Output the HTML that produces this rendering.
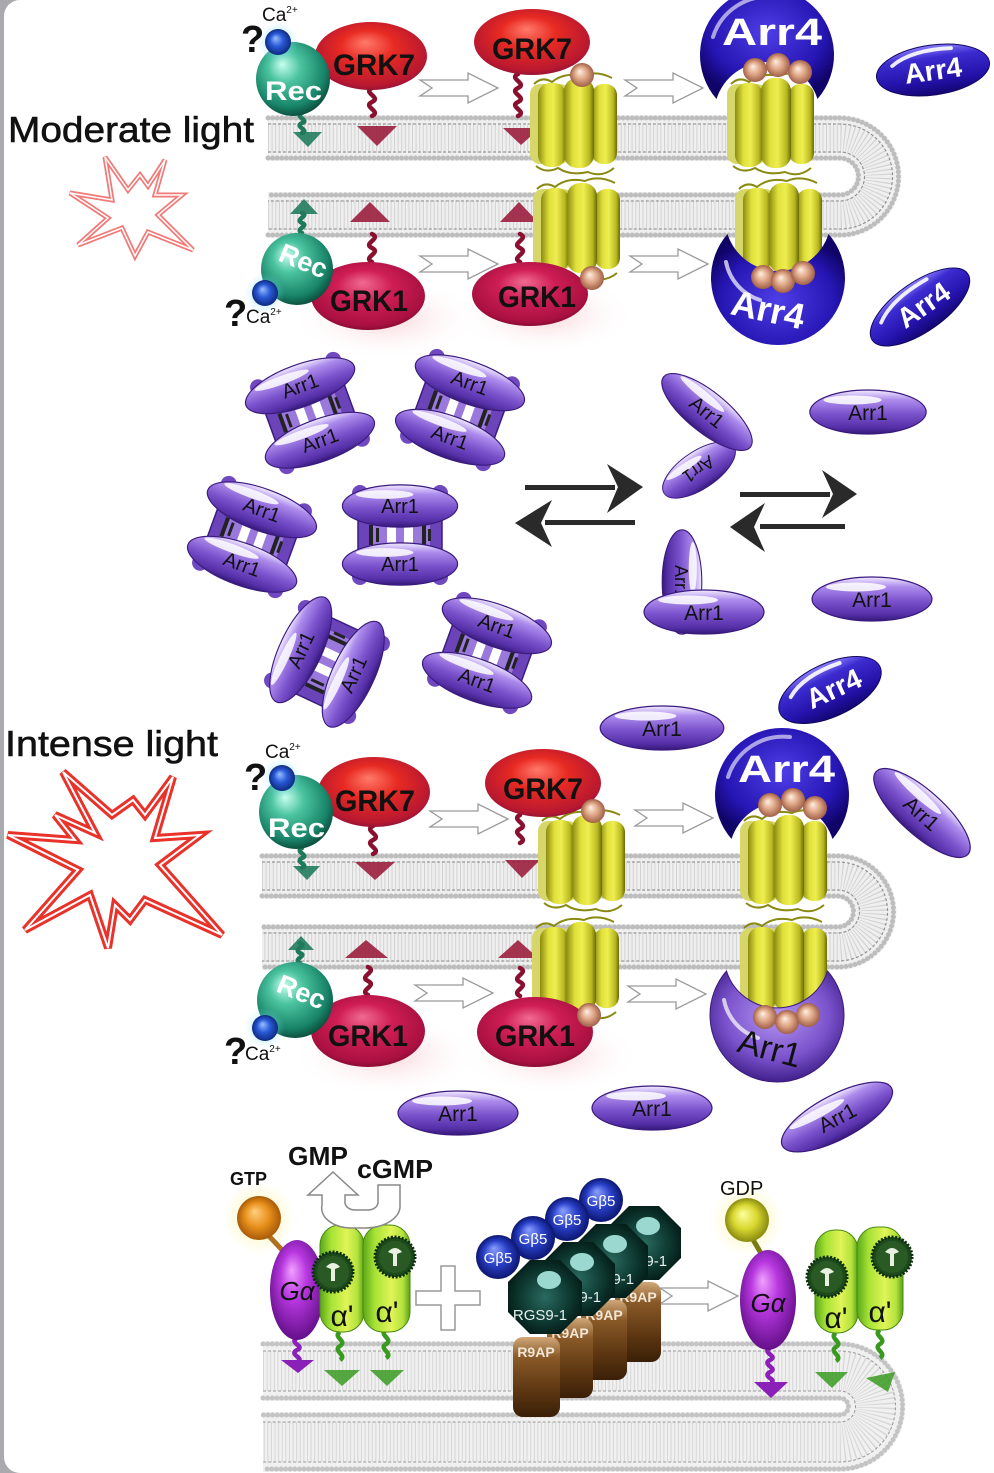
<!DOCTYPE html>
<html><head><meta charset="utf-8">
<style>
html,body{margin:0;padding:0;background:#fff;}
#wrap{position:relative;width:994px;height:1473px;background:#a9a9ae;overflow:hidden;}
#card{position:absolute;left:4px;top:0;width:1000px;height:1473px;background:#fff;border-radius:16px 0 0 16px;}
svg{position:absolute;left:0;top:0;}
text{font-family:"Liberation Sans",sans-serif;}
</style></head><body>
<div id="wrap"><div id="card"></div>
<svg width="994" height="1473" viewBox="0 0 994 1473" xmlns="http://www.w3.org/2000/svg">
<defs>
<linearGradient id="gA1" x1="0" y1="0" x2="0" y2="1">
<stop offset="0" stop-color="#f2ecff"/><stop offset="0.22" stop-color="#ad8cec"/><stop offset="0.55" stop-color="#7a52cc"/><stop offset="0.85" stop-color="#5630a8"/><stop offset="1" stop-color="#351878"/></linearGradient>
<linearGradient id="gA4" x1="0" y1="0" x2="0" y2="1">
<stop offset="0" stop-color="#8a7cff"/><stop offset="0.25" stop-color="#3c2cd0"/><stop offset="0.7" stop-color="#2412aa"/><stop offset="1" stop-color="#120670"/></linearGradient>
<radialGradient id="gA4c" cx="0.5" cy="0.4" r="0.6"><stop offset="0" stop-color="#4e3ee6"/><stop offset="0.7" stop-color="#2616b4"/><stop offset="1" stop-color="#100468"/></radialGradient>
<radialGradient id="gA1c" cx="0.5" cy="0.6" r="0.6"><stop offset="0" stop-color="#b496f2"/><stop offset="0.65" stop-color="#7a52cc"/><stop offset="1" stop-color="#40208a"/></radialGradient>
<radialGradient id="gRec" cx="0.45" cy="0.4" r="0.62" fx="0.35" fy="0.3"><stop offset="0" stop-color="#c8fff0"/><stop offset="0.35" stop-color="#4cc4a0"/><stop offset="0.8" stop-color="#188468"/><stop offset="1" stop-color="#0c4a3a"/></radialGradient>
<radialGradient id="gG7" cx="0.5" cy="0.45" r="0.6" fx="0.45" fy="0.3"><stop offset="0" stop-color="#ff7a6a"/><stop offset="0.4" stop-color="#e82a22"/><stop offset="0.85" stop-color="#b81830"/><stop offset="1" stop-color="#801038"/></radialGradient>
<radialGradient id="gG1" cx="0.5" cy="0.45" r="0.6" fx="0.45" fy="0.3"><stop offset="0" stop-color="#f06a90"/><stop offset="0.4" stop-color="#d01e55"/><stop offset="0.85" stop-color="#a81040"/><stop offset="1" stop-color="#700828"/></radialGradient>
<radialGradient id="gCa" cx="0.5" cy="0.5" r="0.5" fx="0.4" fy="0.35"><stop offset="0" stop-color="#9ac0ff"/><stop offset="0.5" stop-color="#2a5ad8"/><stop offset="1" stop-color="#0e2a80"/></radialGradient>
<radialGradient id="gCaGlow"><stop offset="0" stop-color="#7ee0ff" stop-opacity="0.7"/><stop offset="1" stop-color="#7ee0ff" stop-opacity="0"/></radialGradient>
<linearGradient id="gCyl" x1="0" y1="0" x2="1" y2="0"><stop offset="0" stop-color="#8a8a10"/><stop offset="0.3" stop-color="#e0e03c"/><stop offset="0.55" stop-color="#eeee50"/><stop offset="0.85" stop-color="#b8b820"/><stop offset="1" stop-color="#6a6a08"/></linearGradient>
<radialGradient id="gPho" cx="0.5" cy="0.5" r="0.5" fx="0.4" fy="0.35"><stop offset="0" stop-color="#fff0e4"/><stop offset="0.5" stop-color="#e0a888"/><stop offset="1" stop-color="#a06048"/></radialGradient>
<radialGradient id="gGlow"><stop offset="0" stop-color="#f08c96" stop-opacity="0.4"/><stop offset="1" stop-color="#ffffff" stop-opacity="0"/></radialGradient>
<radialGradient id="gGa" cx="0.5" cy="0.45" r="0.6" fx="0.4" fy="0.3"><stop offset="0" stop-color="#f0a0ff"/><stop offset="0.4" stop-color="#b838e0"/><stop offset="1" stop-color="#5a0a80"/></radialGradient>
<linearGradient id="gPde" x1="0" y1="0" x2="1" y2="0"><stop offset="0" stop-color="#5aa81a"/><stop offset="0.25" stop-color="#a6e234"/><stop offset="0.6" stop-color="#e0f458"/><stop offset="0.85" stop-color="#b4e23c"/><stop offset="1" stop-color="#5aa018"/></linearGradient>
<radialGradient id="gGtp" cx="0.5" cy="0.5" r="0.5" fx="0.4" fy="0.35"><stop offset="0" stop-color="#ffd080"/><stop offset="0.55" stop-color="#e8901c"/><stop offset="1" stop-color="#a85a08"/></radialGradient>
<radialGradient id="gGdp" cx="0.5" cy="0.5" r="0.5" fx="0.4" fy="0.35"><stop offset="0" stop-color="#ffffa0"/><stop offset="0.55" stop-color="#d8d830"/><stop offset="1" stop-color="#8a8a10"/></radialGradient>
<radialGradient id="gYGlow"><stop offset="0" stop-color="#fff27a" stop-opacity="0.6"/><stop offset="1" stop-color="#fff27a" stop-opacity="0"/></radialGradient>
<radialGradient id="gGb" cx="0.5" cy="0.5" r="0.5" fx="0.4" fy="0.3"><stop offset="0" stop-color="#8aa0ff"/><stop offset="0.55" stop-color="#2a40c8"/><stop offset="1" stop-color="#0c1670"/></radialGradient>
<radialGradient id="gOct" cx="0.5" cy="0.5" r="0.55"><stop offset="0" stop-color="#2a6a60"/><stop offset="0.6" stop-color="#0e3a32"/><stop offset="1" stop-color="#041a16"/></radialGradient>
<linearGradient id="gR9" x1="0" y1="0" x2="0" y2="1"><stop offset="0" stop-color="#d0a878"/><stop offset="0.25" stop-color="#8a5a28"/><stop offset="0.7" stop-color="#5a3410"/><stop offset="1" stop-color="#3a2008"/></linearGradient>

<g id="e1"><ellipse rx="60" ry="22" fill="url(#gA1)" stroke="#3a1a7c" stroke-width="1.2"/><ellipse cx="-16" cy="-12" rx="30" ry="4.5" fill="#fff" opacity="0.85"/></g>
<g id="e4"><ellipse rx="60" ry="26" fill="url(#gA4)" stroke="#10065a" stroke-width="1"/><path d="M-42,-10 Q-20,-24 22,-20" stroke="#fff" stroke-width="4" fill="none" stroke-linecap="round" opacity="0.9"/></g>
<g id="tet">
 <circle cx="-40" cy="-42" r="8" fill="#7048c0"/><circle cx="40" cy="-42" r="8" fill="#7048c0"/>
 <circle cx="-40" cy="42" r="8" fill="#7048c0"/><circle cx="40" cy="42" r="8" fill="#7048c0"/>
 <rect x="-42" y="-36" width="84" height="72" rx="8" fill="#6a44b8" stroke="#3c1c80" stroke-width="1.5"/>
 <rect x="-30" y="-22" width="60" height="44" fill="#9a78dc"/>
 <rect x="-13" y="-12" width="9" height="22" fill="#fff"/>
 <rect x="4" y="-12" width="9" height="22" fill="#fff"/>
 <rect x="-31" y="-10" width="4" height="20" fill="#222"/><rect x="-24" y="-7" width="3" height="14" fill="#222"/>
 <rect x="22" y="-10" width="4" height="20" fill="#222"/><rect x="28" y="-6" width="3" height="12" fill="#222"/>
 <use href="#e1" transform="translate(0,-29) scale(0.96)"/>
 <use href="#e1" transform="translate(0,29) scale(0.96)"/>
</g>
<g id="rho">
 <path d="M4,6 q8,-8 18,-2 q12,-10 30,-6 q14,-6 30,2" stroke="#8a8a12" stroke-width="2" fill="none"/>
 <rect x="0" y="6" width="40" height="80" rx="10" fill="#d6d66a"/>
 <rect x="8" y="5" width="28" height="84" rx="12" fill="url(#gCyl)"/>
 <rect x="62" y="6" width="25" height="80" rx="11" fill="url(#gCyl)"/>
 <rect x="34" y="0" width="30" height="90" rx="13" fill="url(#gCyl)"/>
 <path d="M6,88 q10,8 22,2 q12,8 30,4 q14,6 26,-4" stroke="#8a8a12" stroke-width="2" fill="none"/>
</g>
<path id="chev" d="M0,7 H48 V0 L78,15 L48,30 V23 H0 L12,15 Z" fill="#fff" stroke="#9a9a9a" stroke-width="1.3"/>
<path id="cres" d="M-50.5,44 A67 67 0 1 1 50.5,44 A53 53 0 0 0 -50.5,44 Z"/>
<polygon id="oct" points="37,15 15,37 -15,37 -37,15 -37,-15 -15,-37 15,-37 37,-15"/>
<g id="gear"><circle r="20" fill="#1c4a1c" stroke="#0c2c0c" stroke-width="3" stroke-dasharray="2 1.6"/><circle r="16" fill="#2a5a24"/><path d="M-7,-5 Q0,-13 7,-5 L2,-3 V9 H-2 V-3 Z" fill="#e8f0e0"/></g>
</defs>

<!-- ================= MEMBRANES ================= -->
<g fill="none">
 <path d="M268,138 H840 A38.5 38.5 0 0 1 840,215 H268" stroke="#efefef" stroke-width="46"/>
 <path d="M268,138 H840 A38.5 38.5 0 0 1 840,215 H268" stroke="#d2d2d2" stroke-width="30" stroke-dasharray="1 2.6"/>
 <path d="M268,118 H840 A58.5 58.5 0 0 1 840,235 H268" stroke="#bdbdbd" stroke-width="5" stroke-dasharray="0.01 4.6" stroke-linecap="round"/>
 <path d="M268,158 H840 A18.5 18.5 0 0 1 840,195 H268" stroke="#bdbdbd" stroke-width="5" stroke-dasharray="0.01 4.6" stroke-linecap="round"/>
 <path d="M268,124 H840 A52.5 52.5 0 0 1 840,229 H268" stroke="#8a8a8a" stroke-width="1" stroke-dasharray="3 2"/>
 <path d="M268,152 H840 A24.5 24.5 0 0 1 840,201 H268" stroke="#8a8a8a" stroke-width="1" stroke-dasharray="3 2"/>

 <path d="M262,876 H838 A35.5 35.5 0 0 1 838,947 H262" stroke="#efefef" stroke-width="46"/>
 <path d="M262,876 H838 A35.5 35.5 0 0 1 838,947 H262" stroke="#d2d2d2" stroke-width="30" stroke-dasharray="1 2.6"/>
 <path d="M262,856 H838 A55.5 55.5 0 0 1 838,967 H262" stroke="#bdbdbd" stroke-width="5" stroke-dasharray="0.01 4.6" stroke-linecap="round"/>
 <path d="M262,896 H838 A15.5 15.5 0 0 1 838,927 H262" stroke="#bdbdbd" stroke-width="5" stroke-dasharray="0.01 4.6" stroke-linecap="round"/>
 <path d="M262,862 H838 A49.5 49.5 0 0 1 838,961 H262" stroke="#8a8a8a" stroke-width="1" stroke-dasharray="3 2"/>
 <path d="M262,890 H838 A21.5 21.5 0 0 1 838,933 H262" stroke="#8a8a8a" stroke-width="1" stroke-dasharray="3 2"/>

 <path d="M263,1371 H840 A35.5 35.5 0 0 1 840,1442 H263" stroke="#f0f0f0" stroke-width="60"/>
 <path d="M263,1371 H840 A35.5 35.5 0 0 1 840,1442 H263" stroke="#d6d6d6" stroke-width="40" stroke-dasharray="1 2.6"/>
 <path d="M263,1344 H840 A62.5 62.5 0 0 1 840,1469 H263" stroke="#c4c4c4" stroke-width="5" stroke-dasharray="0.01 4.6" stroke-linecap="round"/>
 <path d="M263,1398 H840 A8.5 8.5 0 0 1 840,1415 H263" stroke="#c4c4c4" stroke-width="5" stroke-dasharray="0.01 4.6" stroke-linecap="round"/>
 <path d="M263,1351 H840 A55.5 55.5 0 0 1 840,1462 H263" stroke="#9a9a9a" stroke-width="1" stroke-dasharray="3 2"/>
 <path d="M263,1391 H840 A15.5 15.5 0 0 1 840,1422 H263" stroke="#9a9a9a" stroke-width="1" stroke-dasharray="3 2"/>
</g>

<!-- ================= PINK GLOWS ================= -->
<ellipse cx="385" cy="318" rx="95" ry="42" fill="url(#gGlow)"/>
<ellipse cx="545" cy="315" rx="90" ry="40" fill="url(#gGlow)"/>
<ellipse cx="385" cy="1055" rx="95" ry="42" fill="url(#gGlow)"/>
<ellipse cx="550" cy="1055" rx="90" ry="40" fill="url(#gGlow)"/>

<!-- ================= TAILS & MEMBRANE ARROWS ================= -->
<g fill="none" stroke-width="4.5" stroke-linecap="round">
 <path d="M372,88 c-10,5 10,9 0,14 c-10,5 10,9 0,14" stroke="#8a1030"/>
 <path d="M518,74 c-10,5 10,9 0,14 c-10,5 10,9 0,14 c-10,5 10,9 0,14" stroke="#8a1030"/>
 <path d="M372,262 c-10,-5 10,-9 0,-14 c-10,-5 10,-9 0,-14" stroke="#8a1030"/>
 <path d="M520,262 c-10,-5 10,-9 0,-14 c-10,-5 10,-9 0,-14" stroke="#8a1030"/>
 <path d="M302,113 c-8,4 8,7 0,10 c-8,4 8,7 0,10" stroke="#1e7a5a"/>
 <path d="M302,233 c-8,-4 8,-7 0,-10 c-8,-4 8,-7 0,-10" stroke="#1e7a5a"/>
 <path d="M373,826 c-10,5 10,9 0,14 c-10,5 10,9 0,14" stroke="#8a1030"/>
 <path d="M520,815 c-10,5 10,9 0,14 c-10,5 10,9 0,14" stroke="#8a1030"/>
 <path d="M368,995 c-10,-5 10,-9 0,-14 c-10,-5 10,-9 0,-14" stroke="#8a1030"/>
 <path d="M520,996 c-10,-5 10,-9 0,-14 c-10,-5 10,-9 0,-14" stroke="#8a1030"/>
 <path d="M302,848 c-8,4 8,7 0,10 c-8,4 8,7 0,10" stroke="#1e7a5a"/>
 <path d="M300,963 c-8,-4 8,-7 0,-10 c-8,-4 8,-7 0,-10" stroke="#1e7a5a"/>
</g>
<g opacity="0.88">
 <polygon points="357,126 397,126 377,146" fill="#9a1a3a"/>
 <polygon points="503,128 540,128 521,145" fill="#9a1a3a"/>
 <polygon points="350,222 390,222 370,202" fill="#9a1a3a"/>
 <polygon points="500,222 538,222 519,202" fill="#9a1a3a"/>
 <polygon points="293,132 322,132 308,147" fill="#1e7a5a"/>
 <polygon points="290,214 318,214 304,199" fill="#1e7a5a"/>
 <polygon points="355,862 395,862 375,880" fill="#9a1a3a"/>
 <polygon points="505,860 540,860 522,878" fill="#9a1a3a"/>
 <polygon points="345,958 388,958 366,940" fill="#9a1a3a"/>
 <polygon points="498,958 538,958 518,940" fill="#9a1a3a"/>
 <polygon points="293,866 320,866 307,880" fill="#1e7a5a"/>
 <polygon points="288,950 314,950 301,936" fill="#1e7a5a"/>
</g>

<!-- ================= RHODOPSINS ================= -->
<use href="#rho" x="530" y="78"/>
<use href="#rho" x="727" y="78"/>
<use href="#rho" x="533" y="183"/>
<use href="#rho" x="735" y="183"/>
<use href="#rho" x="538" y="815"/>
<use href="#rho" x="740" y="815"/>
<use href="#rho" x="532" y="922"/>
<use href="#rho" x="740" y="922"/>

<!-- ================= GRKs ================= -->
<ellipse cx="371" cy="56" rx="56" ry="34" fill="url(#gG7)"/>
<text x="333" y="75" font-size="30" font-weight="bold" textLength="82" lengthAdjust="spacingAndGlyphs" fill="#111">GRK7</text>
<ellipse cx="532" cy="42" rx="58" ry="33" fill="url(#gG7)"/>
<text x="492" y="59" font-size="30" font-weight="bold" textLength="80" lengthAdjust="spacingAndGlyphs" fill="#111">GRK7</text>
<ellipse cx="368" cy="296" rx="57" ry="34" fill="url(#gG1)"/>
<text x="330" y="311" font-size="30" font-weight="bold" textLength="78" lengthAdjust="spacingAndGlyphs" fill="#111">GRK1</text>
<ellipse cx="530" cy="294" rx="58" ry="32" fill="url(#gG1)"/>
<text x="498" y="307" font-size="30" font-weight="bold" textLength="78" lengthAdjust="spacingAndGlyphs" fill="#111">GRK1</text>

<ellipse cx="374" cy="792" rx="56" ry="35" fill="url(#gG7)"/>
<text x="335" y="811" font-size="30" font-weight="bold" textLength="80" lengthAdjust="spacingAndGlyphs" fill="#111">GRK7</text>
<ellipse cx="543" cy="783" rx="58" ry="34" fill="url(#gG7)"/>
<text x="503" y="799" font-size="30" font-weight="bold" textLength="80" lengthAdjust="spacingAndGlyphs" fill="#111">GRK7</text>
<ellipse cx="368" cy="1031" rx="57" ry="36" fill="url(#gG1)"/>
<text x="328" y="1046" font-size="30" font-weight="bold" textLength="80" lengthAdjust="spacingAndGlyphs" fill="#111">GRK1</text>
<ellipse cx="535" cy="1032" rx="58" ry="35" fill="url(#gG1)"/>
<text x="495" y="1046" font-size="30" font-weight="bold" textLength="80" lengthAdjust="spacingAndGlyphs" fill="#111">GRK1</text>

<circle cx="582" cy="75" r="12" fill="url(#gPho)"/>
<circle cx="592" cy="278" r="12" fill="url(#gPho)"/>
<circle cx="593" cy="811" r="12" fill="url(#gPho)"/>
<circle cx="589" cy="1015" r="12" fill="url(#gPho)"/>

<!-- ================= CRESCENTS ================= -->
<g transform="translate(767,55)">
 <use href="#cres" fill="url(#gA4c)"/>
 <path d="M-54,-18 A58 58 0 0 1 8,-58" stroke="#fff" stroke-width="4" fill="none" opacity="0.6" stroke-linecap="round"/>
</g>
<text x="722" y="45" font-size="38" font-weight="bold" textLength="100" lengthAdjust="spacingAndGlyphs" fill="#fff">Arr4</text>
<circle cx="755" cy="70" r="12" fill="url(#gPho)"/><circle cx="778" cy="65" r="12" fill="url(#gPho)"/><circle cx="800" cy="72" r="12" fill="url(#gPho)"/>

<g transform="translate(778,278) scale(1,-1)">
 <use href="#cres" fill="url(#gA4c)"/>
</g>
<path d="M726,262 A50 50 0 0 0 760,300" stroke="#fff" stroke-width="4" fill="none" opacity="0.7" stroke-linecap="round"/>
<text x="768" y="322" text-anchor="middle" font-size="36" font-weight="bold" fill="#fff" transform="rotate(12 768 310)">Arr4</text>
<circle cx="763" cy="277" r="12" fill="url(#gPho)"/><circle cx="783" cy="281" r="12" fill="url(#gPho)"/><circle cx="803" cy="273" r="12" fill="url(#gPho)"/>

<g transform="translate(782,795)">
 <use href="#cres" fill="url(#gA4c)"/>
 <path d="M-54,-18 A58 58 0 0 1 8,-58" stroke="#fff" stroke-width="4" fill="none" opacity="0.6" stroke-linecap="round"/>
</g>
<text x="738" y="782" font-size="38" font-weight="bold" textLength="97" lengthAdjust="spacingAndGlyphs" fill="#fff">Arr4</text>
<circle cx="770" cy="805" r="12" fill="url(#gPho)"/><circle cx="793" cy="800" r="12" fill="url(#gPho)"/><circle cx="815" cy="808" r="12" fill="url(#gPho)"/>

<g transform="translate(777,1015) scale(1,-1)">
 <use href="#cres" fill="url(#gA1c)" stroke="#3a1a7c" stroke-width="1"/>
</g>
<path d="M724,1000 A50 50 0 0 0 758,1038" stroke="#fff" stroke-width="4" fill="none" opacity="0.7" stroke-linecap="round"/>
<text x="770" y="1060" text-anchor="middle" font-size="34" fill="#111" transform="rotate(15 770 1048)">Arr1</text>
<circle cx="765" cy="1017" r="12" fill="url(#gPho)"/><circle cx="787" cy="1022" r="12" fill="url(#gPho)"/><circle cx="808" cy="1015" r="12" fill="url(#gPho)"/>

<!-- ================= REC & Ca ================= -->
<g>
 <circle cx="293" cy="79" r="37" fill="url(#gRec)"/>
 <text x="265" y="100" font-size="27" font-weight="bold" textLength="57" lengthAdjust="spacingAndGlyphs" fill="#fff">Rec</text>
 <circle cx="278" cy="42" r="20" fill="url(#gCaGlow)"/>
 <circle cx="278" cy="42" r="13" fill="url(#gCa)"/>
 <text x="241" y="52" font-size="38" font-weight="bold" fill="#111">?</text>
 <text x="262" y="21" font-size="19" fill="#111">Ca<tspan dy="-8" font-size="10">2+</tspan></text>

 <circle cx="297" cy="269" r="36" fill="url(#gRec)"/>
 <text x="303" y="270" text-anchor="middle" font-size="27" font-weight="bold" fill="#fff" transform="rotate(22 303 262)">Rec</text>
 <circle cx="265" cy="293" r="20" fill="url(#gCaGlow)"/>
 <circle cx="265" cy="293" r="13" fill="url(#gCa)"/>
 <text x="224" y="326" font-size="38" font-weight="bold" fill="#111">?</text>
 <text x="246" y="323" font-size="19" fill="#111">Ca<tspan dy="-8" font-size="10">2+</tspan></text>

 <circle cx="296" cy="812" r="37" fill="url(#gRec)"/>
 <text x="268" y="837" font-size="27" font-weight="bold" textLength="57" lengthAdjust="spacingAndGlyphs" fill="#fff">Rec</text>
 <circle cx="282" cy="778" r="20" fill="url(#gCaGlow)"/>
 <circle cx="282" cy="778" r="13" fill="url(#gCa)"/>
 <text x="244" y="790" font-size="38" font-weight="bold" fill="#111">?</text>
 <text x="265" y="758" font-size="19" fill="#111">Ca<tspan dy="-8" font-size="10">2+</tspan></text>

 <circle cx="295" cy="1000" r="38" fill="url(#gRec)"/>
 <text x="301" y="1001" text-anchor="middle" font-size="27" font-weight="bold" fill="#fff" transform="rotate(22 301 993)">Rec</text>
 <circle cx="265" cy="1028" r="20" fill="url(#gCaGlow)"/>
 <circle cx="265" cy="1028" r="13" fill="url(#gCa)"/>
 <text x="224" y="1064" font-size="38" font-weight="bold" fill="#111">?</text>
 <text x="245" y="1060" font-size="19" fill="#111">Ca<tspan dy="-8" font-size="10">2+</tspan></text>
</g>

<!-- ================= CHEVRON ARROWS ================= -->
<use href="#chev" x="420" y="73"/>
<use href="#chev" x="625" y="73"/>
<use href="#chev" x="420" y="249"/>
<use href="#chev" x="630" y="249"/>
<use href="#chev" x="430" y="804"/>
<use href="#chev" x="635" y="803"/>
<use href="#chev" x="415" y="978"/>
<use href="#chev" x="628" y="979"/>
<use href="#chev" x="660" y="1281"/>

<!-- ================= FREE Arr4 ================= -->
<g transform="translate(933,70) rotate(-8)"><use href="#e4" transform="scale(0.95,0.96)"/><text x="0" y="10" text-anchor="middle" font-size="28" font-weight="bold" fill="#fff">Arr4</text></g>
<g transform="translate(920,307) rotate(-35)"><use href="#e4" transform="scale(0.97,0.95)"/><text x="4" y="10" text-anchor="middle" font-size="28" font-weight="bold" fill="#fff">Arr4</text></g>
<g transform="translate(830,690) rotate(-25)"><use href="#e4" transform="scale(0.92,1.02)"/><text x="4" y="10" text-anchor="middle" font-size="28" font-weight="bold" fill="#fff">Arr4</text></g>

<!-- ================= TETRAMERS ================= -->
<g transform="translate(310,413) rotate(-20)"><use href="#tet"/><text x="0" y="-22" text-anchor="middle" font-size="20" fill="#111">Arr1</text><text x="0" y="36" text-anchor="middle" font-size="20" fill="#111">Arr1</text></g>
<g transform="translate(460,410) rotate(20)"><use href="#tet"/><text x="0" y="-22" text-anchor="middle" font-size="20" fill="#111">Arr1</text><text x="0" y="36" text-anchor="middle" font-size="20" fill="#111">Arr1</text></g>
<g transform="translate(252,537) rotate(20)"><use href="#tet"/><text x="0" y="-22" text-anchor="middle" font-size="20" fill="#111">Arr1</text><text x="0" y="36" text-anchor="middle" font-size="20" fill="#111">Arr1</text></g>
<g transform="translate(400,535)"><use href="#tet"/><text x="0" y="-22" text-anchor="middle" font-size="20" fill="#111">Arr1</text><text x="0" y="36" text-anchor="middle" font-size="20" fill="#111">Arr1</text></g>
<g transform="translate(327,662) rotate(-65)"><use href="#tet"/><text x="0" y="-22" text-anchor="middle" font-size="20" fill="#111">Arr1</text><text x="0" y="36" text-anchor="middle" font-size="20" fill="#111">Arr1</text></g>
<g transform="translate(487,653) rotate(20)"><use href="#tet"/><text x="0" y="-22" text-anchor="middle" font-size="20" fill="#111">Arr1</text><text x="0" y="36" text-anchor="middle" font-size="20" fill="#111">Arr1</text></g>

<!-- ================= EQUILIBRIUM ARROWS ================= -->
<g fill="#2a2a2a">
 <rect x="525" y="485" width="90" height="5"/><path d="M643,487 L607,464 L618,487 L607,513 Z"/>
 <rect x="545" y="520" width="90" height="5"/><path d="M515,523 L552,500 L541,523 L552,547 Z"/>
 <rect x="740" y="492" width="90" height="5"/><path d="M857,494 L822,470 L833,494 L822,518 Z"/>
 <rect x="760" y="524" width="85" height="5"/><path d="M730,527 L765,503 L754,527 L765,552 Z"/>
</g>

<!-- ================= MONOMERS / DIMERS ================= -->
<g transform="translate(699,470) rotate(-34)"><use href="#e1" transform="scale(0.7,0.85)"/><text x="0" y="7" text-anchor="middle" font-size="18" fill="#111" transform="rotate(180 0 0)">Arr1</text></g>
<g transform="translate(707,412) rotate(39)"><use href="#e1" transform="scale(0.93,0.92)"/><text x="0" y="7" text-anchor="middle" font-size="20" fill="#111">Arr1</text></g>
<g transform="translate(868,412)"><use href="#e1" transform="scale(0.97,1)"/><text x="0" y="8" text-anchor="middle" font-size="21" fill="#111">Arr1</text></g>
<g transform="translate(682,582) rotate(90)"><use href="#e1" transform="scale(0.87,0.9)"/><text x="0" y="7" text-anchor="middle" font-size="18" fill="#111">Arr1</text></g>
<g transform="translate(704,612)"><use href="#e1"/><text x="0" y="8" text-anchor="middle" font-size="21" fill="#111">Arr1</text></g>
<g transform="translate(872,599)"><use href="#e1"/><text x="0" y="8" text-anchor="middle" font-size="21" fill="#111">Arr1</text></g>
<g transform="translate(662,728)"><use href="#e1" transform="scale(1.03,1)"/><text x="0" y="8" text-anchor="middle" font-size="21" fill="#111">Arr1</text></g>
<g transform="translate(922,813) rotate(42)"><use href="#e1" transform="scale(1.03,1)"/><text x="0" y="8" text-anchor="middle" font-size="21" fill="#111">Arr1</text></g>
<g transform="translate(458,1113)"><use href="#e1"/><text x="0" y="8" text-anchor="middle" font-size="21" fill="#111">Arr1</text></g>
<g transform="translate(652,1108)"><use href="#e1"/><text x="0" y="8" text-anchor="middle" font-size="21" fill="#111">Arr1</text></g>
<g transform="translate(837,1117) rotate(-28)"><use href="#e1" transform="scale(1.03,1)"/><text x="0" y="8" text-anchor="middle" font-size="21" fill="#111">Arr1</text></g>

<!-- ================= LABELS & STARS ================= -->
<text x="8" y="142" font-size="36" textLength="246" lengthAdjust="spacingAndGlyphs" fill="#111" stroke="#111" stroke-width="0.6">Moderate light</text>
<text x="5" y="756" font-size="36" textLength="213" lengthAdjust="spacingAndGlyphs" fill="#111" stroke="#111" stroke-width="0.6">Intense light</text>

<polygon points="105,157 128,190 140,175 148,186 165,160 155,195 182,195 158,215 193,250 148,232 135,256 122,228 78,245 108,218 70,193 112,200" fill="#fff" stroke="#f07a78" stroke-width="5" stroke-linejoin="miter"/>
<polygon points="105,157 128,190 140,175 148,186 165,160 155,195 182,195 158,215 193,250 148,232 135,256 122,228 78,245 108,218 70,193 112,200" fill="none" stroke="#fff" stroke-width="1.5"/>

<polygon points="63,772 112,815 133,800 145,815 173,777 155,838 200,835 160,865 222,935 145,900 130,920 115,905 108,948 90,895 25,930 78,870 8,835 75,840 55,815 95,833" fill="#fff" stroke="#e8322a" stroke-width="8" stroke-linejoin="miter"/>
<polygon points="63,772 112,815 133,800 145,815 173,777 155,838 200,835 160,865 222,935 145,900 130,920 115,905 108,948 90,895 25,930 78,870 8,835 75,840 55,815 95,833" fill="none" stroke="#fff" stroke-width="2"/>

<!-- ================= BOTTOM SECTION ================= -->
<circle cx="259" cy="1218" r="36" fill="url(#gYGlow)"/>
<line x1="268" y1="1235" x2="284" y2="1252" stroke="#b07020" stroke-width="5"/>
<circle cx="259" cy="1218" r="22" fill="url(#gGtp)"/>
<text x="230" y="1185" font-size="18" font-weight="bold" fill="#111">GTP</text>
<path d="M297,1338 c-9,5 9,8 0,12 c-9,5 9,8 0,12" stroke="#8a20b8" stroke-width="4.5" fill="none"/>
<polygon points="281,1360 314,1360 298,1373" fill="#8a20b8"/>
<ellipse cx="297" cy="1290" rx="27" ry="50" fill="url(#gGa)"/>
<text x="297" y="1300" text-anchor="middle" font-size="26" font-style="italic" fill="#111">Gα</text>

<path d="M340,1332 c-8,5 8,9 0,14 c-8,5 8,9 0,14" stroke="#3a9a20" stroke-width="4.5" fill="none"/>
<path d="M386,1330 c-8,5 8,9 0,14 c-8,5 8,9 0,14" stroke="#3a9a20" stroke-width="4.5" fill="none"/>
<polygon points="324,1370 360,1370 342,1386" fill="#3a9a20" opacity="0.85"/>
<polygon points="370,1370 404,1370 387,1386" fill="#3a9a20" opacity="0.85"/>
<rect x="320" y="1225" width="44" height="107" rx="20" fill="url(#gPde)" stroke="#4a8a10" stroke-width="1"/>
<rect x="363" y="1225" width="47" height="107" rx="20" fill="url(#gPde)" stroke="#4a8a10" stroke-width="1"/>
<use href="#gear" x="333" y="1272"/>
<use href="#gear" x="395" y="1257"/>
<text x="342" y="1326" text-anchor="middle" font-size="30" font-family="Liberation Serif, serif" fill="#111">α'</text>
<text x="387" y="1322" text-anchor="middle" font-size="30" font-family="Liberation Serif, serif" fill="#111">α'</text>

<path d="M378,1185 L400,1185 L400,1205 A35 22 0 0 1 365,1228 L350,1228 A30 20 0 0 1 322,1205 L322,1195 L308,1195 L333,1172 L358,1195 L345,1195 L345,1203 A10 8 0 0 0 355,1210 L368,1210 A10 8 0 0 0 378,1203 Z" fill="#fff" stroke="#888" stroke-width="1.5"/>
<text x="288" y="1165" font-size="26" font-weight="bold" textLength="60" lengthAdjust="spacingAndGlyphs" fill="#111">GMP</text>
<text x="357" y="1178" font-size="26" font-weight="bold" textLength="76" lengthAdjust="spacingAndGlyphs" fill="#111">cGMP</text>

<path d="M441,1266 H455 V1291 H480 V1305 H455 V1330 H441 V1305 H416 V1291 H441 Z" fill="#fff" stroke="#999" stroke-width="1.5"/>

<g>
 <rect x="615" y="1282" width="46" height="80" rx="10" fill="url(#gR9)"/>
 <text x="638" y="1302" text-anchor="middle" font-size="14" font-weight="bold" fill="#f2e6d6">R9AP</text>
 <use href="#oct" x="644" y="1243" fill="url(#gOct)"/>
 <ellipse cx="648" cy="1226" rx="12" ry="9" fill="#9ad8d0"/>
 <text x="640" y="1266" text-anchor="middle" font-size="15" fill="#e8f0f0">RGS9-1</text>
 <circle cx="601" cy="1200" r="22" fill="url(#gGb)"/>
 <text x="601" y="1206" text-anchor="middle" font-size="15" fill="#fff">Gβ5</text>

 <rect x="581" y="1300" width="46" height="80" rx="10" fill="url(#gR9)"/>
 <text x="604" y="1320" text-anchor="middle" font-size="14" font-weight="bold" fill="#f2e6d6">R9AP</text>
 <use href="#oct" x="611" y="1261" fill="url(#gOct)"/>
 <ellipse cx="615" cy="1244" rx="12" ry="9" fill="#9ad8d0"/>
 <text x="607" y="1284" text-anchor="middle" font-size="15" fill="#e8f0f0">RGS9-1</text>
 <circle cx="567" cy="1219" r="22" fill="url(#gGb)"/>
 <text x="567" y="1225" text-anchor="middle" font-size="15" fill="#fff">Gβ5</text>

 <rect x="547" y="1318" width="46" height="80" rx="10" fill="url(#gR9)"/>
 <text x="570" y="1338" text-anchor="middle" font-size="14" font-weight="bold" fill="#f2e6d6">R9AP</text>
 <use href="#oct" x="578" y="1279" fill="url(#gOct)"/>
 <ellipse cx="582" cy="1262" rx="12" ry="9" fill="#9ad8d0"/>
 <text x="574" y="1302" text-anchor="middle" font-size="15" fill="#e8f0f0">RGS9-1</text>
 <circle cx="533" cy="1238" r="22" fill="url(#gGb)"/>
 <text x="533" y="1244" text-anchor="middle" font-size="15" fill="#fff">Gβ5</text>

 <rect x="513" y="1337" width="47" height="80" rx="10" fill="url(#gR9)"/>
 <text x="536" y="1357" text-anchor="middle" font-size="14" font-weight="bold" fill="#f2e6d6">R9AP</text>
 <use href="#oct" x="545" y="1297" fill="url(#gOct)"/>
 <ellipse cx="549" cy="1280" rx="12" ry="9" fill="#9ad8d0"/>
 <text x="540" y="1320" text-anchor="middle" font-size="15" fill="#e8f0f0">RGS9-1</text>
 <circle cx="498" cy="1257" r="22" fill="url(#gGb)"/>
 <text x="498" y="1263" text-anchor="middle" font-size="15" fill="#fff">Gβ5</text>
</g>

<circle cx="747" cy="1220" r="36" fill="url(#gYGlow)"/>
<line x1="752" y1="1238" x2="762" y2="1255" stroke="#7a7a10" stroke-width="5"/>
<circle cx="747" cy="1220" r="22" fill="url(#gGdp)"/>
<text x="720" y="1195" font-size="20" fill="#111">GDP</text>
<path d="M770,1348 c-9,5 9,8 0,12 c-9,5 9,8 0,12 c-9,5 9,8 0,10" stroke="#8a20b8" stroke-width="4.5" fill="none"/>
<polygon points="754,1382 788,1382 771,1398" fill="#8a20b8"/>
<ellipse cx="768" cy="1300" rx="28" ry="50" fill="url(#gGa)"/>
<text x="768" y="1312" text-anchor="middle" font-size="26" font-style="italic" fill="#111">Gα</text>

<path d="M836,1333 c-8,5 8,9 0,14 c-8,5 8,9 0,14" stroke="#3a9a20" stroke-width="4.5" fill="none"/>
<path d="M880,1330 c-8,5 8,9 0,14 c-8,5 8,9 0,14" stroke="#3a9a20" stroke-width="4.5" fill="none"/>
<polygon points="815,1372 848,1372 832,1388" fill="#3a9a20" opacity="0.85"/>
<polygon points="866,1378 895,1372 888,1392" fill="#3a9a20" opacity="0.85"/>
<rect x="815" y="1230" width="43" height="103" rx="20" fill="url(#gPde)" stroke="#4a8a10" stroke-width="1"/>
<rect x="857" y="1227" width="46" height="103" rx="20" fill="url(#gPde)" stroke="#4a8a10" stroke-width="1"/>
<use href="#gear" x="827" y="1277"/>
<use href="#gear" x="892" y="1257"/>
<text x="836" y="1328" text-anchor="middle" font-size="30" font-family="Liberation Serif, serif" fill="#111">α'</text>
<text x="880" y="1322" text-anchor="middle" font-size="30" font-family="Liberation Serif, serif" fill="#111">α'</text>
</svg>
</div>
</body></html>
